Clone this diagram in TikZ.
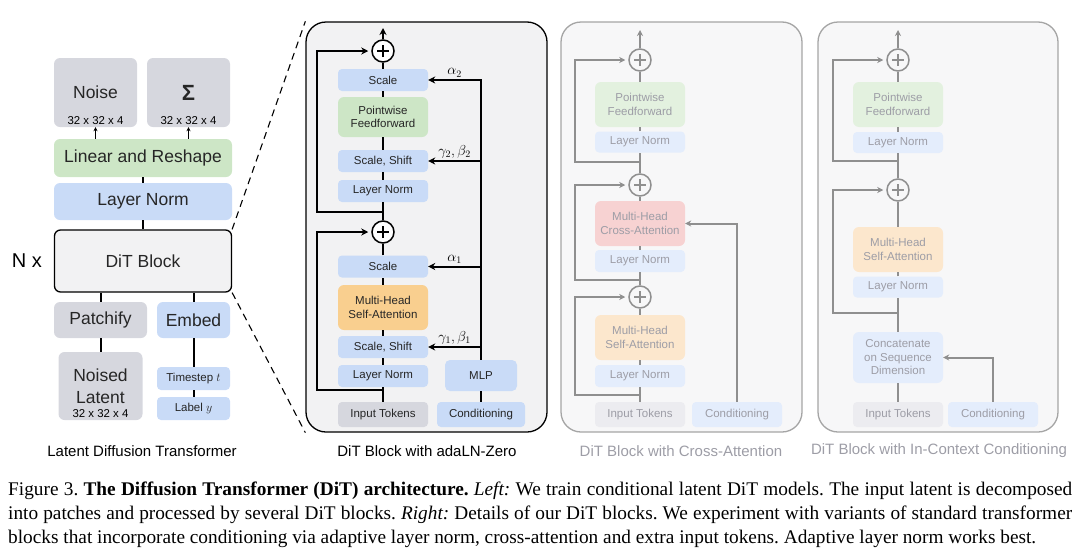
\documentclass[tikz,border=0pt]{standalone}
\usepackage{fontspec}
\setmainfont{Liberation Serif}
\setsansfont{Liberation Sans}
\usetikzlibrary{arrows.meta}

\definecolor{boxGray}{HTML}{D6D7DE}
\definecolor{boxBlue}{HTML}{C9DBF7}
\definecolor{boxGreen}{HTML}{CDE6C6}
\definecolor{boxOrange}{HTML}{F9CF8F}
\definecolor{panelBg}{HTML}{F2F2F3}
\definecolor{fdGray}{HTML}{ECECF0}
\definecolor{fdBlue}{HTML}{E4EDFC}
\definecolor{fdGreen}{HTML}{E3F1DF}
\definecolor{fdOrange}{HTML}{FCE7CD}
\definecolor{fdPink}{HTML}{F7D2D2}
\definecolor{fdText}{HTML}{9D9DA6}
\definecolor{fdLine}{HTML}{8F8F8F}
\definecolor{fdBg}{HTML}{F7F7F8}

\newcommand{\smallsf}{\sffamily\fontsize{11.5}{13.5}\selectfont}
\newcommand{\bigsf}{\sffamily\fontsize{17.5}{22}\selectfont}

\begin{document}
\begin{tikzpicture}[x=1pt, y=-1pt,
	box/.style={rounded corners=4pt, inner sep=0pt, align=center, font=\smallsf, text=black!85},
	bigbox/.style={box, rounded corners=6pt, font=\bigsf},
	dims/.style={anchor=south, inner sep=2pt, font=\sffamily\fontsize{11.4}{13}\selectfont},
	wireK/.style={line width=2pt, black},
	arrK/.style={wireK, -{Stealth[length=7pt,width=7pt]}},
	arrS/.style={line width=1.5pt, -{Stealth[length=4pt,width=4pt]}},
	wireF/.style={line width=2pt, fdLine},
	arrF/.style={wireF, -{Stealth[length=6pt,width=6pt]}},
	addK/.style={circle, draw, line width=1.5pt, fill=white, minimum size=22pt, inner sep=0pt,
		path picture={\draw[line width=1.5pt] ([xshift=-6pt]path picture bounding box.center) -- ([xshift=6pt]path picture bounding box.center);
			\draw[line width=1.5pt] ([yshift=-6pt]path picture bounding box.center) -- ([yshift=6pt]path picture bounding box.center);}},
	addF/.style={addK, draw=fdLine, fill=fdBg, path picture={\draw[line width=1.5pt, fdLine] ([xshift=-6pt]path picture bounding box.center) -- ([xshift=6pt]path picture bounding box.center);
			\draw[line width=1.5pt, fdLine] ([yshift=-6pt]path picture bounding box.center) -- ([yshift=6pt]path picture bounding box.center);}},
	fd/.style={box, text=fdText},
	title/.style={font=\sffamily\fontsize{15}{18}\selectfont},
	coef/.style={above, inner sep=2pt, font=\fontsize{14}{16}\selectfont}]
\useasboundingbox (0,0) rectangle (1080,560);

\pgfmathsetmacro{\colL}{100.5}
\pgfmathsetmacro{\colR}{193.5}
\pgfmathsetmacro{\colB}{383}
\pgfmathsetmacro{\colC}{640}
\pgfmathsetmacro{\colD}{898}

% left: latent diffusion transformer
\node[bigbox, fill=boxGray, minimum width=83, minimum height=69,
	label={[dims]south:32 x 32 x 4}] (noise) at (95.5,92.5) {Noise};
\node[bigbox, fill=boxGray, minimum width=83, minimum height=69,
	label={[dims]south:32 x 32 x 4}] (sigma) at (188.5,92.5) {\fontsize{22}{24}\selectfont\textbf{Σ}};
\node[bigbox, fill=boxGreen, minimum width=178, minimum height=38] (linear) at (143,158) {Linear and Reshape};
\node[bigbox, fill=boxBlue, minimum width=178, minimum height=37] (lnL) at (143,201.5) {Layer Norm};
\node[bigbox, draw, line width=1.3pt, fill=panelBg, minimum width=177, minimum height=62] (dit) at (143,261) {DiT Block};
\node[font=\sffamily\fontsize{20}{22}\selectfont] (nx) at (27,261) {N x};
\node[bigbox, fill=boxGray, minimum width=93, minimum height=36] (patch) at (\colL,320) {Patchify};
\node[bigbox, fill=boxBlue, minimum width=73, minimum height=36] (embed) at (\colR,320) {Embed};
\node[bigbox, fill=boxGray, minimum width=84, minimum height=68,
	label={[dims]south:32 x 32 x 4}] (latent) at (\colL,386) {Noised\\Latent};
\node[box, fill=boxBlue, minimum width=73, minimum height=23] (tstep) at (\colR,378.5) {Timestep $t$};
\node[box, fill=boxBlue, minimum width=73, minimum height=23] (lab) at (\colR,408.5) {Label $y$};
\node[title] (tL) at (142,451) {Latent Diffusion Transformer};

\draw[arrS] (linear.north -| noise.south) -- (noise.south);
\draw[arrS] (linear.north -| sigma.south) -- (sigma.south);
\draw[wireK] (linear) -- (lnL);
\draw[wireK] (lnL) -- (dit);
\draw[wireK] (dit.south -| patch) -- (patch);
\draw[wireK] (dit.south -| embed) -- (embed);
\draw[wireK] (patch) -- (latent);
\draw[wireK] (embed) -- (tstep);
\draw[wireK] (tstep) -- (lab);

% adaLN-Zero block
\node[draw, line width=1.3pt, fill=panelBg, rounded corners=20pt, minimum width=241, minimum height=410] (p2) at (426.5,227) {};
\draw[line width=1.1pt, dash pattern=on 7pt off 5pt] (dit.north east) -- (p2.north west);
\draw[line width=1.1pt, dash pattern=on 7pt off 5pt] (dit.south east) -- (p2.south west);

\node[addK] (plusT) at (\colB,51) {};
\node[box, fill=boxBlue, minimum width=90, minimum height=22] (scale2) at (\colB,80) {Scale};
\node[box, fill=boxGreen, rounded corners=6pt, minimum width=90, minimum height=40] (pff) at (\colB,117) {Pointwise\\Feedforward};
\node[box, fill=boxBlue, minimum width=90, minimum height=22] (ss2) at (\colB,161) {Scale, Shift};
\node[box, fill=boxBlue, minimum width=90, minimum height=22] (ln2) at (\colB,191) {Layer Norm};
\node[addK] (plusB) at (\colB,232) {};
\node[box, fill=boxBlue, minimum width=90, minimum height=22] (scale1) at (\colB,266.5) {Scale};
\node[box, fill=boxOrange, rounded corners=6pt, minimum width=90, minimum height=45] (mhsa) at (\colB,307.5) {Multi-Head\\Self-Attention};
\node[box, fill=boxBlue, minimum width=90, minimum height=22] (ss1) at (\colB,347) {Scale, Shift};
\node[box, fill=boxBlue, minimum width=90, minimum height=22] (ln1) at (\colB,376) {Layer Norm};
\node[box, fill=boxGray, minimum width=90, minimum height=25] (tok) at (\colB,414.5) {Input Tokens};
\node[box, fill=boxBlue, rounded corners=5pt, minimum width=72, minimum height=31] (mlp) at (481,375.5) {MLP};
\node[box, fill=boxBlue, minimum width=88, minimum height=25] (cond) at (481,414.5) {Conditioning};
\coordinate (outB) at (\colB,28);
\coordinate (jB2) at (\colB,212);
\coordinate (jB1) at (\colB,390);
\node[title] (tB) at (427,451) {DiT Block with adaLN-Zero};

\foreach \a/\b in {tok/ln1, ln1/ss1, ss1/mhsa, mhsa/scale1, scale1/plusB, plusB/ln2, ln2/ss2, ss2/pff, pff/scale2, scale2/plusT}
	\draw[wireK] (\a) -- (\b);
\draw[arrK] (plusT) -- (outB);
\draw[arrK, shorten >=3pt] (jB2) -- ++(-66,0) |- (plusT);
\draw[arrK, shorten >=3pt] (jB1) -- ++(-66,0) |- (plusB);
\draw[wireK] (cond) -- (mlp);
\draw[arrK] (mlp.north) -- (mlp |- scale2) -- node[coef]{$\alpha_2$} (scale2.east);
\draw[arrK] (mlp |- ss2) -- node[coef]{$\gamma_2,\beta_2$} (ss2.east);
\draw[arrK] (mlp |- scale1) -- node[coef]{$\alpha_1$} (scale1.east);
\draw[arrK] (mlp |- ss1) -- node[coef]{$\gamma_1,\beta_1$} (ss1.east);

% cross-attention block
\node[draw=fdLine!80, line width=1.3pt, fill=fdBg, rounded corners=20pt, minimum width=241, minimum height=410] (p3) at (681.5,227) {};
\node[addF] (plusC3) at (\colC,60) {};
\node[fd, fill=fdGreen, rounded corners=6pt, minimum width=90, minimum height=45] (pffC) at (\colC,104.5) {Pointwise\\Feedforward};
\node[fd, fill=fdBlue, minimum width=90, minimum height=21] (lnC3) at (\colC,142) {Layer Norm};
\node[addF] (plusC2) at (\colC,185) {};
\node[fd, fill=fdPink, rounded corners=6pt, minimum width=90, minimum height=45] (xattn) at (\colC,223.5) {Multi-Head\\Cross-Attention};
\node[fd, fill=fdBlue, minimum width=90, minimum height=22] (lnC2) at (\colC,261) {Layer Norm};
\node[addF] (plusC1) at (\colC,297) {};
\node[fd, fill=fdOrange, rounded corners=6pt, minimum width=90, minimum height=45] (sattnC) at (\colC,337.5) {Multi-Head\\Self-Attention};
\node[fd, fill=fdBlue, minimum width=90, minimum height=22] (lnC1) at (\colC,376) {Layer Norm};
\node[fd, fill=fdGray, minimum width=90, minimum height=25] (tokC) at (\colC,414.5) {Input Tokens};
\node[fd, fill=fdBlue, minimum width=90, minimum height=25] (condC) at (737,414.5) {Conditioning};
\coordinate (outC) at (\colC,30);
\coordinate (jC3) at (\colC,162);
\coordinate (jC2) at (\colC,280);
\coordinate (jC1) at (\colC,395);
\node[title, text=fdText] (tC) at (681,451) {DiT Block with Cross-Attention};

\foreach \a/\b in {tokC/lnC1, lnC1/sattnC, sattnC/plusC1, plusC1/lnC2, lnC2/xattn, xattn/plusC2, plusC2/lnC3, lnC3/pffC, pffC/plusC3}
	\draw[wireF] (\a) -- (\b);
\draw[arrF] (plusC3) -- (outC);
\draw[arrF, shorten >=3pt] (jC3) -- ++(-65,0) |- (plusC3);
\draw[arrF, shorten >=3pt] (jC2) -- ++(-65,0) |- (plusC2);
\draw[arrF, shorten >=3pt] (jC1) -- ++(-65,0) |- (plusC1);
\draw[arrF] (condC.north) |- (xattn.east);

% in-context conditioning block
\node[draw=fdLine!80, line width=1.3pt, fill=fdBg, rounded corners=20pt, minimum width=240, minimum height=410] (p4) at (938,227) {};
\node[addF] (plusD2) at (\colD,60) {};
\node[fd, fill=fdGreen, rounded corners=6pt, minimum width=90, minimum height=45] (pffD) at (\colD,104.5) {Pointwise\\Feedforward};
\node[fd, fill=fdBlue, minimum width=90, minimum height=21] (lnD2) at (\colD,142.5) {Layer Norm};
\node[addF] (plusD1) at (\colD,190) {};
\node[fd, fill=fdOrange, rounded corners=6pt, minimum width=90, minimum height=45] (sattnD) at (\colD,249.5) {Multi-Head\\Self-Attention};
\node[fd, fill=fdBlue, minimum width=90, minimum height=21] (lnD1) at (\colD,287) {Layer Norm};
\node[fd, fill=fdBlue, rounded corners=6pt, minimum width=90, minimum height=51] (concat) at (\colD,357.5) {Concatenate\\on Sequence\\Dimension};
\node[fd, fill=fdGray, minimum width=90, minimum height=25] (tokD) at (\colD,414.5) {Input Tokens};
\node[fd, fill=fdBlue, minimum width=90, minimum height=25] (condD) at (993,414.5) {Conditioning};
\coordinate (outD) at (\colD,30);
\coordinate (jD2) at (\colD,161);
\coordinate (jD1) at (\colD,313);
\node[title, text=fdText] (tD) at (939,451) {DiT Block with In-Context Conditioning};

\foreach \a/\b in {tokD/concat, concat/lnD1, lnD1/sattnD, sattnD/plusD1, plusD1/lnD2, lnD2/pffD, pffD/plusD2}
	\draw[wireF] (\a) -- (\b);
\draw[arrF] (plusD2) -- (outD);
\draw[arrF, shorten >=3pt] (jD2) -- ++(-65,0) |- (plusD2);
\draw[arrF, shorten >=3pt] (jD1) -- ++(-65,0) |- (plusD1);
\draw[arrF] (condD.north) |- (concat.east);

% caption
\node[anchor=north west, inner sep=0pt, text width=1064pt, align=justify,
	font=\rmfamily\fontsize{19.3}{23.8}\selectfont\frenchspacing] (cap) at (8,482) {Figure 3. \textbf{The Diffusion Transformer (DiT) architecture.} \textit{Left:} We train conditional latent DiT models. The input latent is decomposed\linebreak
into patches and processed by several DiT blocks. \textit{Right:} Details of our DiT blocks. We experiment with variants of standard transformer\linebreak
blocks that incorporate conditioning via adaptive layer norm, cross-attention and extra input tokens. Adaptive layer norm works best.};
\end{tikzpicture}
\end{document}
